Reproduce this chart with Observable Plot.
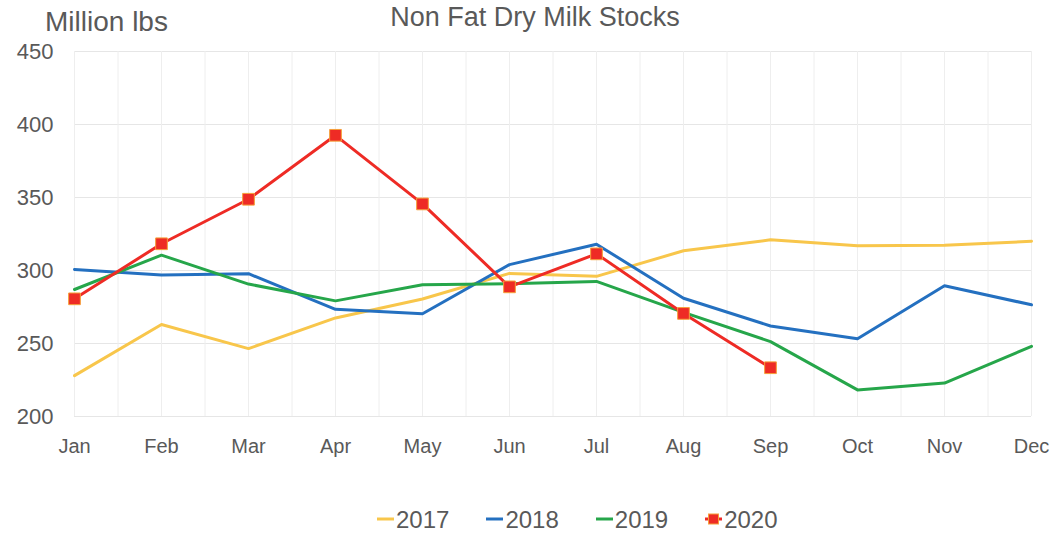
<!DOCTYPE html>
<html><head><meta charset="utf-8">
<script src="https://cdn.jsdelivr.net/npm/d3@7"></script>
<script src="https://cdn.jsdelivr.net/npm/@observablehq/plot@0.6"></script>
<style>
body{margin:0;background:#fff;font-family:"Liberation Sans",Arial,sans-serif;color:#595959}
#wrap{position:relative;width:1060px;height:537px;overflow:hidden;background:#fff}
#hdr{position:relative;height:40px}
#unit{position:absolute;left:45px;top:8px;font-size:28px;line-height:28px;white-space:nowrap}
#title{position:absolute;left:0;width:1070px;text-align:center;top:4px;font-size:27px;line-height:27px}
#chart svg{display:block;overflow:visible}
#chart g[aria-label^="y-axis"] text{font-size:22px}
#legend{position:absolute;top:508px;left:377px;display:flex;font-size:24px;line-height:24px;white-space:nowrap}
.item{display:flex;align-items:flex-start;margin-right:37px}
.item svg{display:block;margin-right:2px}
</style>
</head><body>
<div id="wrap">
  <div id="hdr"><div id="unit">Million lbs</div><div id="title">Non Fat Dry Milk Stocks</div></div>
  <div id="chart"></div>
  <div id="legend"></div>
</div>
<script>
const months = ["Jan","Feb","Mar","Apr","May","Jun","Jul","Aug","Sep","Oct","Nov","Dec"];
const years = ["2017","2018","2019","2020"];
const colors = ["#F8C64B","#2470C0","#26A64A","#EE2B25"];
const yTicks = [200,250,300,350,400,450];
const s2017 = [228, 263, 246.5, 267.5, 280.5, 298, 296, 313.5, 321, 317, 317.3, 320];
const s2018 = [300.7, 297, 297.8, 273.4, 270.4, 304, 318, 281, 262, 253.3, 289.6, 276.5];
const s2019 = [287, 310.5, 290.7, 279.2, 290.3, 291, 292.5, 271.3, 251.3, 218.2, 222.9, 248];
const s2020 = [280.6, 318.3, 348.8, 392.6, 345.6, 288.8, 311.4, 270.6, 233.4];

const series = [s2017, s2018, s2019, s2020];
const rows = years.flatMap((yr, k) => series[k].map((v, i) => ({year: yr, m: i, v})));
const halfTicks = d3.range(0, 11.001, 0.5);

const chart = Plot.plot({
  width: 1060, height: 440,
  marginLeft: 74, marginRight: 29, marginTop: 11, marginBottom: 64,
  x: {domain: [0, 11], ticks: d3.range(12), tickFormat: i => months[i], tickSize: 0, tickPadding: 22, label: null},
  y: {domain: [200, 450], ticks: yTicks, tickSize: 0, tickPadding: 21, label: null},
  color: {domain: years, range: colors},
  style: {fontFamily: '"Liberation Sans", Arial, sans-serif', fontSize: "20px", color: "#595959", background: "#fff", overflow: "visible"},
  marks: [
    Plot.ruleY(yTicks, {stroke: "#e6e6e6", strokeWidth: 1}),
    Plot.ruleX(halfTicks, {stroke: "#eeeeee", strokeWidth: 1}),
    Plot.line(rows, {x: "m", y: "v", z: "year", stroke: "year", strokeWidth: 3, strokeLinejoin: "round"}),
    Plot.dot(rows.filter(d => d.year === "2020"), {x: "m", y: "v", symbol: "square", r: 6.6, fill: "#EE2B25", stroke: "#F6A03A", strokeWidth: 1})
  ]
});
document.getElementById("chart").appendChild(chart);

const legend = d3.select("#legend");
years.forEach((yr, k) => {
  const it = legend.append("div").attr("class", "item");
  const sw = it.append("svg").attr("width", 17).attr("height", 24);
  sw.append("line").attr("x1", 0).attr("x2", 17).attr("y1", 11).attr("y2", 11)
    .attr("stroke", colors[k]).attr("stroke-width", 3);
  if (yr === "2020") {
    sw.append("rect").attr("x", 3.5).attr("y", 6).attr("width", 10).attr("height", 10)
      .attr("fill", colors[k]).attr("stroke", "#F6A03A").attr("stroke-width", 1);
  }
  it.append("span").text(yr);
});
</script>
</body></html>
